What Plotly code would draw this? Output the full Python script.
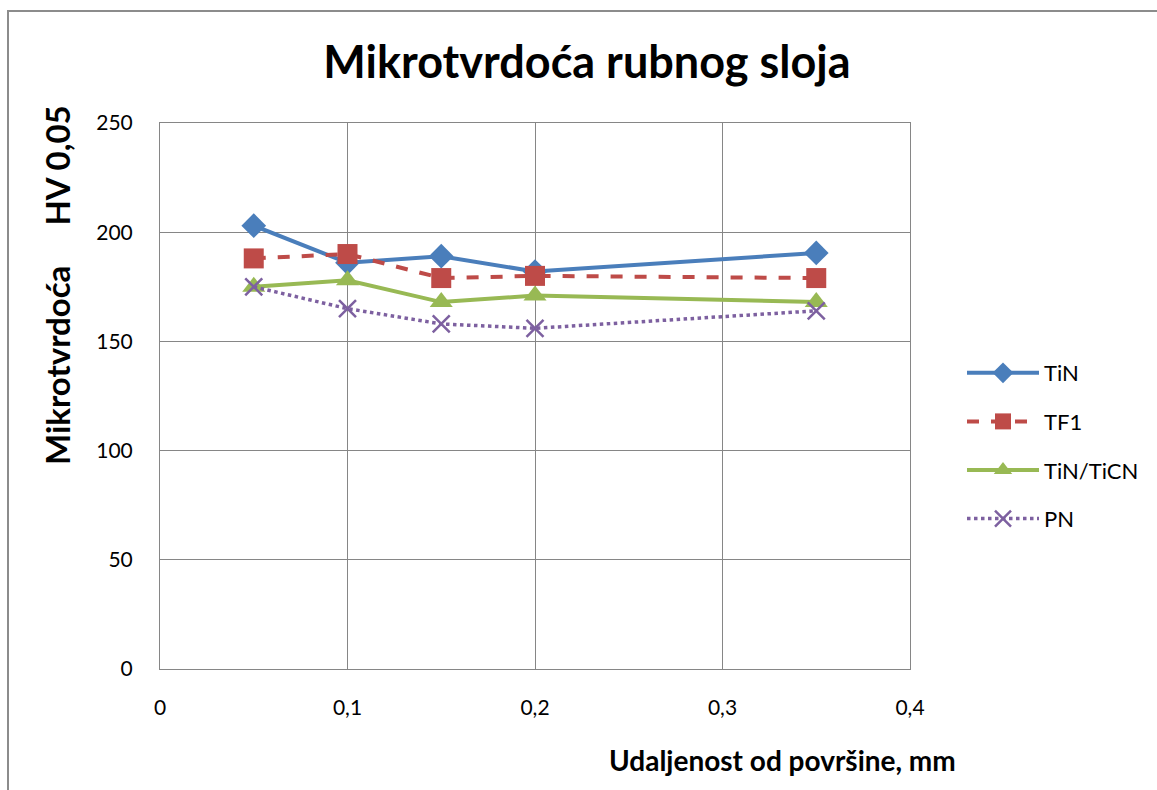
import plotly.graph_objects as go

# Distance from the surface (mm)
distance = [0.05, 0.1, 0.15, 0.2, 0.35]

# Microhardness HV 0,05 per coating
tin = [203, 186, 189, 182, 190.5]
tf1 = [188, 190, 179, 180, 179]
tin_ticn = [175, 178, 168, 171, 168]
pn = [175, 165, 158, 156, 164]

x_ticks = [0, 0.1, 0.2, 0.3, 0.4]
x_tick_text = ["0", "0,1", "0,2", "0,3", "0,4"]
y_ticks = [0, 50, 100, 150, 200, 250]

FONT = "Lato, Calibri, Carlito, sans-serif"

fig = go.Figure()

fig.add_trace(go.Scatter(
    x=distance, y=tin, name="TiN", mode="lines+markers", legendgroup="a",
    line=dict(color="#4A7EBB", width=4),
    marker=dict(symbol="diamond", size=19, color="#4A7EBB"),
))
fig.add_trace(go.Scatter(
    x=distance, y=tf1, name="TF1", mode="lines+markers", legendgroup="b",
    line=dict(color="#BE4B48", width=4, dash="dash"),
    marker=dict(symbol="square", size=20, color="#BE4B48"),
))
fig.add_trace(go.Scatter(
    x=distance, y=tin_ticn, name="TiN/TiCN", mode="lines+markers", legendgroup="c",
    line=dict(color="#98B954", width=4),
    marker=dict(symbol="triangle-up", size=20, color="#98B954"),
))
fig.add_trace(go.Scatter(
    x=distance, y=pn, name="PN", mode="lines+markers", legendgroup="d",
    line=dict(color="#7D60A0", width=3.5, dash="dot"),
    marker=dict(symbol="x-thin", size=17, color="#7D60A0",
                line=dict(color="#7D60A0", width=2.5)),
))

L, R, T, B = 160, 1157 - 910, 123, 790 - 669
W, H = 1157, 790
pw, ph = W - L - R, H - T - B


def px_x(px):
    return (px - L) / pw


def px_y(py):
    return (H - B - py) / ph


fig.update_layout(
    width=W, height=H,
    margin=dict(l=L, r=R, t=T, b=B),
    paper_bgcolor="white", plot_bgcolor="white",
    font=dict(family=FONT, color="#000000"),
    title=dict(text="Mikrotvrdoća rubnog sloja", xref="container", x=587 / W,
               xanchor="center", yref="container", y=1 - 62 / H, yanchor="middle",
               font=dict(family=FONT, size=45, color="#000000", weight="bold")),
    xaxis=dict(range=[0, 0.4], tickvals=x_ticks, ticktext=x_tick_text,
               showgrid=True, gridcolor="#868686", gridwidth=1,
               showline=True, linecolor="#868686", linewidth=1, mirror=True,
               zeroline=False, ticks="outside", ticklen=20, tickcolor="rgba(0,0,0,0)",
               tickfont=dict(family=FONT, size=21, color="#000000")),
    yaxis=dict(range=[0, 250], tickvals=y_ticks,
               showgrid=True, gridcolor="#868686", gridwidth=1,
               showline=True, linecolor="#868686", linewidth=1, mirror=True,
               zeroline=False, ticks="outside", ticklen=22, tickcolor="rgba(0,0,0,0)",
               tickfont=dict(family=FONT, size=21, color="#000000")),
    showlegend=True,
    legend=dict(x=px_x(962), y=px_y(352), xanchor="left", yanchor="top",
                font=dict(family=FONT, size=22, color="#000000"),
                itemwidth=72, tracegroupgap=17, traceorder="grouped",
                bgcolor="rgba(0,0,0,0)"),
    annotations=[
        dict(text="Mikrotvrdoća     HV 0,05", textangle=-90, showarrow=False,
             xref="paper", yref="paper", x=px_x(57), y=px_y(285),
             xanchor="center", yanchor="middle",
             font=dict(family=FONT, size=33, color="#000000", weight="bold")),
        dict(text="Udaljenost od površine, mm", showarrow=False,
             xref="paper", yref="paper", x=px_x(958), y=px_y(760),
             xanchor="right", yanchor="middle",
             font=dict(family=FONT, size=28, color="#000000", weight="bold")),
    ],
    shapes=[
        dict(type="rect", xref="paper", yref="paper",
             x0=px_x(8), x1=px_x(1170), y0=px_y(800), y1=px_y(11),
             line=dict(color="#8C8C8C", width=2), fillcolor="rgba(0,0,0,0)",
             layer="below"),
    ],
)

fig.write_html("out.html")
